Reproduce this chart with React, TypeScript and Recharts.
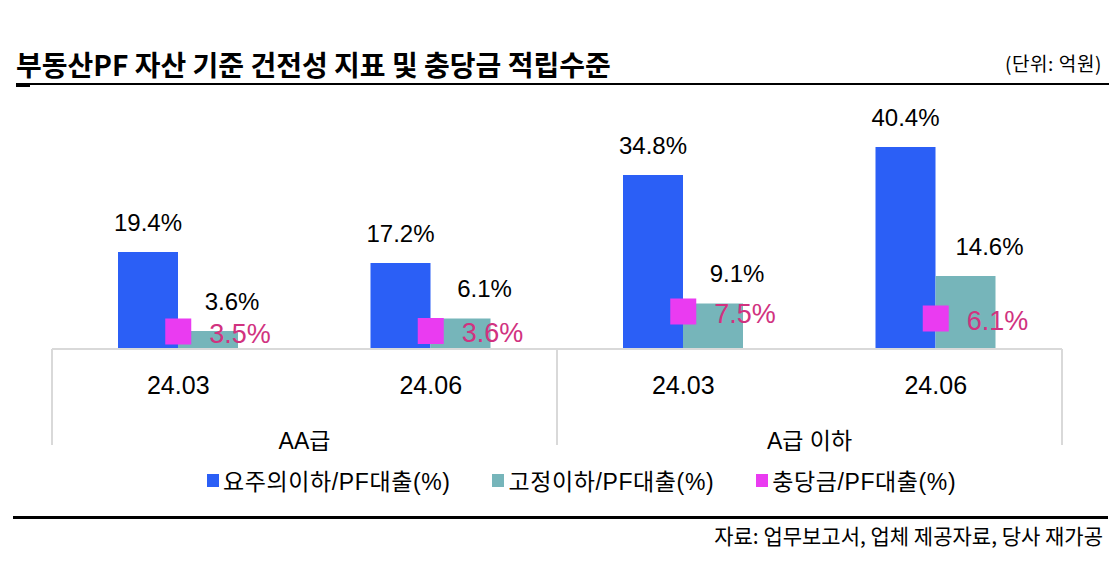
import { ComposedChart, Bar, Line, XAxis, YAxis, LabelList } from 'recharts';

const periods = ['24.03', '24.06', '24.03', '24.06'];
const grades = ['AA급', 'AA급', 'A급 이하', 'A급 이하'];
const watchRatio = [19.4, 17.2, 34.8, 40.4];
const substandardRatio = [3.6, 6.1, 9.1, 14.6];
const provisionRatio = [3.5, 3.6, 7.5, 6.1];

const SERIES = [
  { key: 'watch', name: '요주의이하/PF대출(%)', color: '#2B5FF6' },
  { key: 'sub', name: '고정이하/PF대출(%)', color: '#76B5BA' },
  { key: 'prov', name: '충당금/PF대출(%)', color: '#EA3BF1' },
];

const data = periods.map((period, i) => ({
  period,
  grade: grades[i],
  watch: watchRatio[i],
  sub: substandardRatio[i],
  prov: provisionRatio[i],
}));

const FONT = "'Liberation Sans', 'Noto Sans CJK KR', sans-serif";
const KR_FONT = "'Noto Sans CJK KR', sans-serif";
const GRID = '#D9D9D9';

const PeriodTick = ({ x, y, payload }: any) => (
  <text x={x} y={y + 28} textAnchor="middle" dominantBaseline="central" fontSize={25} fill="#000" fontFamily={FONT}>
    {payload.value}
  </text>
);

const GroupTick = ({ x, y, payload }: any) => {
  const half = payload.offset;
  return (
    <g>
      {payload.index === 0 && <line x1={x - half} x2={x - half} y1={y - 48} y2={y + 48} stroke={GRID} strokeWidth={2} />}
      <line x1={x + half} x2={x + half} y1={y - 48} y2={y + 48} stroke={GRID} strokeWidth={2} />
      <text x={x} y={y + 44} textAnchor="middle" dominantBaseline="central" fontSize={23} fill="#000" fontFamily={FONT}>
        {payload.value}
      </text>
    </g>
  );
};

const barLabel = (shift: number) => (props: any) => {
  const { x, y, width, value } = props;
  return (
    <text x={x + width / 2 + shift} y={y - 30} textAnchor="middle" dominantBaseline="central" fontSize={24} fill="#000" fontFamily={FONT}>
      {value.toFixed(1)}%
    </text>
  );
};

const provisionLabel = (props: any) => {
  const { x, y, value } = props;
  return (
    <text x={x + 31} y={y + 2} textAnchor="start" dominantBaseline="central" fontSize={27} fill="#D1327F" fontFamily={FONT}>
      {value.toFixed(1)}%
    </text>
  );
};

const SquareDot = (props: any) => {
  const { cx, cy, index } = props;
  return <rect key={`sq-${index}`} x={cx - 13} y={cy - 13} width={26} height={26} fill={SERIES[2].color} />;
};

export default function App() {
  return (
    <div style={{ position: 'absolute', left: 0, top: 0, width: 1120, height: 570, background: '#fff', overflow: 'hidden' }}>
      <div style={{ position: 'absolute', left: 16, top: 48, fontFamily: KR_FONT, fontWeight: 700, fontSize: 28, lineHeight: '32px', color: '#000', whiteSpace: 'nowrap' }}>
        부동산PF 자산 기준 건전성 지표 및 충당금 적립수준
      </div>
      <div style={{ position: 'absolute', right: 18, top: 50, fontFamily: KR_FONT, fontSize: 19, letterSpacing: 0.6, lineHeight: '26px', color: '#000' }}>
        (단위: 억원)
      </div>
      <div style={{ position: 'absolute', left: 16, top: 83, width: 1093, height: 2, background: '#000' }} />
      <div style={{ position: 'absolute', left: 16, top: 84, width: 14, height: 3, background: '#000' }} />

      <ComposedChart width={1120} height={570} data={data} margin={{ top: 99, right: 58, bottom: 121, left: 52 }} barGap={0}>
        <XAxis dataKey="period" height={40} axisLine={{ stroke: GRID, strokeWidth: 2 }} tickLine={false} tick={<PeriodTick />} interval={0} />
        <XAxis xAxisId="group" dataKey="grade" height={60} allowDuplicatedCategory={false} axisLine={false} tickLine={false} tick={<GroupTick />} interval={0} />
        <YAxis hide domain={[0, 50]} />
        <Bar dataKey="watch" name={SERIES[0].name} fill={SERIES[0].color} barSize={60} isAnimationActive={false}>
          <LabelList dataKey="watch" content={barLabel(0)} />
        </Bar>
        <Bar dataKey="sub" name={SERIES[1].name} fill={SERIES[1].color} barSize={60} isAnimationActive={false}>
          <LabelList dataKey="sub" content={barLabel(24)} />
        </Bar>
        <Line dataKey="prov" name={SERIES[2].name} stroke="none" dot={SquareDot} activeDot={false} isAnimationActive={false}>
          <LabelList dataKey="prov" content={provisionLabel} />
        </Line>
      </ComposedChart>

      <div style={{ position: 'absolute', left: 207, top: 464, height: 32, display: 'flex', alignItems: 'center', gap: 42 }}>
        {SERIES.map((s) => (
          <div key={s.key} style={{ display: 'flex', alignItems: 'center' }}>
            <span style={{ width: 12, height: 13, background: s.color, marginRight: 4, flexShrink: 0 }} />
            <span style={{ fontFamily: FONT, fontSize: 23, letterSpacing: 0.6, color: '#000', whiteSpace: 'nowrap' }}>{s.name}</span>
          </div>
        ))}
      </div>

      <div style={{ position: 'absolute', left: 13, top: 516, width: 1095, height: 3, background: '#000' }} />
      <div style={{ position: 'absolute', right: 17, top: 521, fontFamily: KR_FONT, fontSize: 21, lineHeight: '28px', color: '#000', whiteSpace: 'nowrap' }}>
        자료: 업무보고서, 업체 제공자료, 당사 재가공
      </div>
    </div>
  );
}
